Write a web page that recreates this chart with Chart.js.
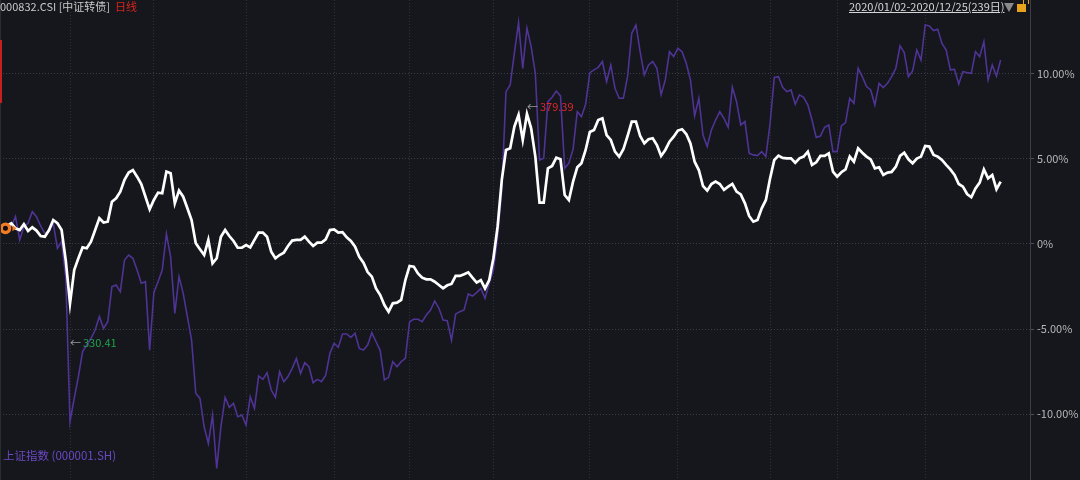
<!DOCTYPE html>
<html>
<head>
<meta charset="utf-8">
<script src="https://cdn.jsdelivr.net/npm/chart.js@4.4.0/dist/chart.umd.min.js"></script>
<style>
html, body { margin: 0; padding: 0; background: #15171c; }
#wrap { position: relative; width: 1080px; height: 480px; overflow: hidden; font-family: "Noto Sans CJK SC", "Noto Sans", sans-serif; }
#myChart { position: absolute; left: 0; top: 0; }
.txt { position: absolute; font-size: 11px; line-height: 13px; white-space: nowrap; }
</style>
</head>
<body>
<div id="wrap">
  <canvas id="myChart" width="1080" height="480"></canvas>
  <div style="position:absolute;left:0;top:0;width:1px;height:480px;background:#2a2d33"></div>
  <div style="position:absolute;left:0;top:40px;width:2px;height:63px;background:#c3201f"></div>
  <div class="txt" style="left:0;top:0;color:#c9c9c9">000832.CSI&nbsp;[中证转债]&nbsp;&nbsp;<span style="color:#d9231d">日线</span></div>
  <div class="txt" style="left:849px;top:0;color:#d6d6d6;text-decoration:underline">2020/01/02-2020/12/25(239日)</div>
  <div style="position:absolute;left:1004px;top:3px;width:0;height:0;border-left:5px solid transparent;border-right:5px solid transparent;border-top:9px solid #8a8a8a"></div>
  <div style="position:absolute;left:1017px;top:4px;width:9px;height:8px;background:#e8a31c"></div>
  <div style="position:absolute;left:1023px;top:-2px;width:4px;height:5px;border:1px solid #e8a31c;border-bottom:none;border-radius:3px 3px 0 0"></div>
  <div class="txt" style="left:3px;top:449px;color:#6b48c4;font-size:11.5px">上证指数 (000001.SH)</div>
</div>
<script>
'use strict';
// 中证转债 (white), % change
let bondIndex = [
    0.92, 1.06, 1.22, 0.92, 0.82, 1.16, 0.77, 0.98, 0.79, 0.47,
    0.43, 0.82, 1.41, 1.22, 0.82, -1.00, -3.49, -1.53, -0.84, -0.20,
    -0.25, 0.14, 0.82, 1.51, 1.26, 1.31, 2.49, 2.69, 3.08, 3.77,
    4.20, 4.35, 3.96, 3.53, 2.78, 2.04, 2.59, 3.02, 2.98, 4.26,
    4.16, 2.39, 3.14, 2.78, 2.10, 1.41, 0.04, -0.31, -0.65, 0.24,
    -1.14, -0.84, 0.43, 0.82, 0.47, 0.18, -0.22, -0.22, -0.06, -0.20,
    0.24, 0.67, 0.67, 0.43, -0.45, -0.84, -0.65, -0.51, -0.12, 0.20,
    0.24, 0.24, 0.43, 0.14, -0.12, 0.08, 0.08, 0.27, 0.82, 0.86,
    0.67, 0.69, 0.39, 0.18, -0.16, -0.75, -1.10, -1.65, -1.92, -2.61,
    -3.00, -3.59, -3.98, -3.49, -3.45, -3.29, -2.12, -1.29, -1.33, -1.73,
    -1.98, -2.08, -2.08, -2.22, -2.41, -2.61, -2.43, -2.35, -1.88, -1.88,
    -1.78, -1.67, -1.98, -2.27, -2.12, -2.61, -2.12, -0.84, 1.02, 3.77,
    5.53, 5.63, 6.90, 7.59, 6.12, 7.65, 6.80, 5.14, 2.43, 2.43,
    4.45, 4.59, 5.08, 4.98, 2.88, 2.59, 3.67, 4.51, 4.75, 5.53,
    6.59, 6.71, 7.29, 7.39, 6.41, 6.12, 5.43, 5.14, 5.57, 6.35,
    7.20, 7.20, 6.35, 5.92, 6.16, 6.22, 5.82, 5.18, 5.53, 6.02,
    6.31, 6.67, 6.75, 6.47, 5.92, 4.84, 4.35, 3.41, 3.14, 3.53,
    3.67, 3.53, 3.18, 3.37, 3.53, 3.08, 2.92, 2.39, 1.65, 1.31,
    1.41, 2.10, 2.59, 3.86, 4.94, 5.20, 5.06, 5.04, 5.04, 4.78,
    5.04, 5.14, 5.43, 4.65, 4.80, 5.18, 5.18, 5.33, 4.26, 3.96,
    4.22, 4.39, 5.14, 4.84, 5.63, 5.37, 5.14, 4.98, 4.45, 4.51,
    4.06, 4.20, 4.24, 4.55, 5.18, 5.37, 4.98, 4.75, 5.02, 5.14,
    5.77, 5.73, 5.24, 5.14, 4.94, 4.65, 4.39, 4.06, 3.53, 3.37,
    2.94, 2.75, 3.27, 3.61, 4.39, 3.86, 4.06, 3.22, 3.67
];
// 上证指数 (purple), % change
let shIndex = [
    0.92, 0.98, 1.02, 1.61, 0.24, 1.02, 1.22, 1.90, 1.61, 1.06,
    0.63, 0.73, 1.22, -0.25, 0.14, -2.00, -10.45, -9.08, -7.80, -6.33,
    -5.94, -5.55, -5.06, -4.27, -4.96, -4.57, -2.51, -2.41, -2.80, -0.94,
    -0.65, -0.84, -1.53, -2.31, -2.22, -6.24, -2.86, -2.22, -1.53, 0.59,
    -0.75, -4.08, -1.92, -2.90, -4.27, -5.65, -8.78, -9.08, -10.75, -11.73,
    -10.06, -13.20, -10.75, -9.02, -9.61, -9.37, -10.16, -10.06, -10.65, -8.98,
    -9.67, -7.76, -7.96, -7.57, -8.59, -9.02, -7.51, -8.10, -7.80, -7.31,
    -6.73, -7.61, -6.98, -7.22, -8.16, -7.96, -8.10, -7.71, -6.43, -5.84,
    -6.08, -5.29, -5.29, -5.49, -5.25, -6.14, -6.24, -5.94, -5.22, -5.75,
    -6.27, -8.00, -7.84, -6.92, -7.22, -6.92, -6.73, -4.57, -4.43, -4.43,
    -4.57, -4.18, -3.88, -3.35, -3.78, -4.47, -4.51, -5.65, -4.12, -3.98,
    -3.88, -2.94, -3.06, -2.86, -2.61, -3.20, -2.31, -1.53, 0.43, 3.18,
    8.96, 9.35, 11.22, 13.02, 10.33, 12.69, 11.61, 10.04, 4.94, 5.04,
    8.37, 8.63, 9.00, 8.71, 4.45, 4.75, 5.57, 7.78, 7.49, 8.22,
    10.08, 10.24, 10.39, 10.73, 9.55, 10.53, 9.16, 8.57, 8.57, 9.84,
    12.39, 12.88, 11.31, 9.94, 10.53, 10.73, 10.33, 8.77, 9.65, 11.31,
    11.02, 11.51, 11.31, 10.63, 9.65, 7.53, 8.57, 6.41, 5.73, 6.71,
    7.29, 7.78, 7.39, 6.86, 9.22, 8.37, 7.00, 7.20, 5.33, 5.24,
    5.20, 5.43, 5.14, 7.10, 9.80, 9.84, 9.22, 8.96, 9.06, 8.22,
    8.77, 8.63, 8.18, 7.29, 6.27, 6.35, 6.86, 7.00, 5.43, 5.43,
    6.94, 7.14, 8.57, 8.27, 10.33, 9.84, 9.26, 9.06, 8.18, 9.45,
    9.20, 9.45, 9.84, 10.33, 11.65, 11.26, 9.84, 10.18, 11.41, 10.82,
    12.88, 12.82, 12.55, 12.63, 11.80, 11.41, 10.24, 10.27, 9.41, 10.14,
    10.08, 10.04, 11.31, 11.02, 11.90, 9.65, 10.53, 9.88, 10.82
];
// first trading day of each month (Feb..Dec), as day index
let monthStarts = [16, 36, 58, 79, 97, 117, 140, 161, 183, 199, 220];
let yTicks = [-10, -5, 0, 5, 10];
let bondLow = '330.41';
let bondHigh = '379.39';

let fontFamily = '"Noto Sans CJK SC", "Noto Sans", sans-serif';

function toPoints(values) {
    let pts = [];
    for (let i = 0; i < values.length; i++) {
        pts.push({ x: i, y: values[i] });
    }
    return pts;
}

let decorPlugin = {
    id: 'decor',
    afterDatasetsDraw(chart, args, opts) {
        let ctx = chart.ctx;
        let xs = chart.scales.x;
        let ys = chart.scales.y;
        ctx.save();
        // start marker
        let sx = xs.getPixelForValue(0) + 2.5;
        let sy = ys.getPixelForValue(bondIndex[0]);
        ctx.beginPath();
        ctx.arc(sx, sy, 4.2, 0, Math.PI * 2);
        ctx.fillStyle = '#0d0d0d';
        ctx.fill();
        ctx.lineWidth = 3.4;
        ctx.strokeStyle = '#f47b20';
        ctx.stroke();
        ctx.beginPath();
        ctx.moveTo(sx + 7, sy - 3);
        ctx.lineTo(sx + 7, sy + 3);
        ctx.lineTo(sx + 11, sy);
        ctx.closePath();
        ctx.fillStyle = '#f47b20';
        ctx.fill();
        // high / low notes
        ctx.font = '11px ' + fontFamily;
        ctx.textBaseline = 'middle';
        ctx.textAlign = 'left';
        opts.notes.forEach(function (n) {
            let x = xs.getPixelForValue(n.idx);
            let y = ys.getPixelForValue(n.level);
            ctx.fillStyle = '#9a9a9a';
            ctx.fillText('←', x, y);
            ctx.fillStyle = n.color;
            ctx.fillText(n.text, x + 13, y);
        });
        ctx.restore();
    }
};

let ctx = document.getElementById('myChart').getContext('2d');
let chart = new Chart(ctx, {
    type: 'line',
    data: {
        datasets: [
            {
                label: '000832.CSI',
                data: toPoints(bondIndex),
                borderColor: '#ffffff',
                borderWidth: 2.7,
                pointRadius: 0,
                tension: 0,
                order: 0
            },
            {
                label: '上证指数 (000001.SH)',
                data: toPoints(shIndex),
                borderColor: '#4f3395',
                borderWidth: 1.6,
                pointRadius: 0,
                tension: 0,
                order: 1
            }
        ]
    },
    options: {
        responsive: false,
        animation: false,
        layout: { padding: 0 },
        plugins: {
            legend: { display: false },
            tooltip: { enabled: false },
            decor: {
                notes: [
                    { idx: 16, level: -5.8, text: bondLow, color: '#22a04b' },
                    { idx: 125, level: 8.05, text: bondHigh, color: '#e0272f' }
                ]
            }
        },
        scales: {
            x: {
                type: 'linear',
                min: -0.7,
                max: 245,
                afterBuildTicks(scale) {
                    scale.ticks = monthStarts.map(v => ({ value: v }));
                },
                afterFit(scale) {
                    scale.height = 0;
                },
                ticks: { display: false },
                grid: { color: 'rgba(80,85,95,0.45)', lineWidth: 1, drawTicks: false },
                border: { display: false, dash: [1, 2] }
            },
            y: {
                position: 'right',
                min: -13.88,
                max: 14.35,
                afterBuildTicks(scale) {
                    scale.ticks = yTicks.map(v => ({ value: v }));
                },
                afterFit(scale) {
                    scale.width = 50;
                    scale.paddingTop = 0;
                    scale.paddingBottom = 0;
                },
                ticks: {
                    color: '#b8b8b8',
                    padding: 3,
                    font: { size: 11, family: fontFamily },
                    callback: v => v === 0 ? '0%' : v.toFixed(2) + '%'
                },
                grid: { color: 'rgba(90,95,105,0.55)', tickLength: 4, tickColor: 'rgba(90,95,105,0.8)' },
                border: { display: true, color: '#3b3e45', dash: [1, 2] }
            }
        }
    },
    plugins: [decorPlugin]
});
</script>
</body>
</html>
